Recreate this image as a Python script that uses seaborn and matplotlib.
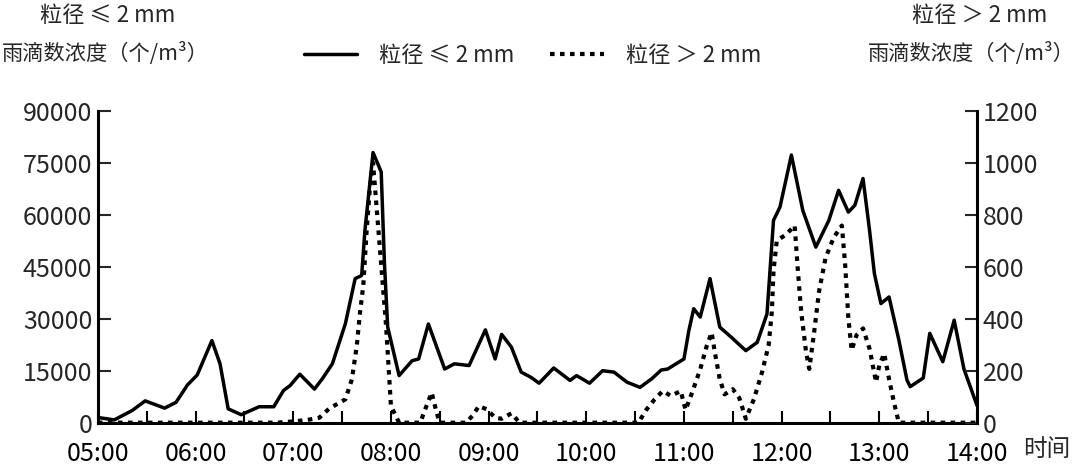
import numpy as np
import pandas as pd
import seaborn as sns
import matplotlib.pyplot as plt
from matplotlib.lines import Line2D

# minutes after 05:00 and drop concentrations
small_t = [0, 10, 21, 29, 41, 48, 55, 61, 70, 75, 80, 88, 99, 108, 114, 118, 124,
           133, 138, 144, 152, 158, 162, 164, 169, 174, 176, 178, 185, 193, 197,
           203, 213, 219, 228, 238, 244, 248, 254, 260, 266, 271, 280, 290, 294,
           302, 310, 317, 325, 333, 340, 346, 350, 360, 363, 366, 370, 376, 382,
           389, 398, 405, 411, 415, 419, 426, 433, 441, 449, 455, 461, 465, 470,
           474, 477, 481, 486, 492, 497, 499, 507, 511, 519, 526, 532, 540]
small_n = [1500, 800, 3500, 6300, 4200, 5900, 10900, 13800, 23700, 17000, 4000,
           2300, 4600, 4600, 9300, 10700, 14000, 9700, 12800, 17000, 28600, 41600,
           42500, 55500, 78000, 72400, 46000, 27600, 13600, 17900, 18400, 28500,
           15500, 17000, 16500, 26800, 18400, 25500, 21800, 14600, 13100, 11400,
           15800, 12200, 13600, 11400, 15000, 14600, 11700, 10200, 12600, 15200,
           15500, 18400, 26600, 32900, 30500, 41600, 27600, 24700, 20800, 23200,
           31400, 58400, 62300, 77300, 61300, 50700, 58400, 67100, 60800, 62800,
           70500, 55600, 43000, 34400, 36300, 23900, 12300, 10400, 12900, 25800,
           17600, 29600, 15500, 5000]

large_t = [0, 110, 120, 128, 136, 142, 152, 156, 159, 161, 163, 165, 167, 169,
           177, 178.5, 180, 185, 198, 201, 205, 208, 210, 226, 230, 234, 239, 244,
           248, 254, 259, 332, 337, 342, 347, 352, 358, 361, 365, 370, 374, 377,
           379, 382, 385, 390, 394, 398, 403, 408, 412, 414, 415, 417, 423, 428,
           430, 432, 435, 437, 440, 443, 447, 452, 457, 459, 461, 463, 466, 470,
           474, 478, 480, 483, 486, 489, 492, 540]
large_n = [0, 0, 5, 10, 19, 54, 90, 167, 296, 425, 528, 733, 900, 1000,
           373, 219, 64, 0, 0, 51, 116, 40, 0, 0, 26, 64, 51, 19,
           15, 36, 0, 0, 51, 90, 122, 103, 122, 49, 116, 206, 296, 347,
           270, 167, 109, 129, 95, 15, 91, 195, 298, 428, 584, 700, 726, 759,
           584, 428, 272, 207, 350, 506, 635, 713, 759, 610, 402, 279, 337, 363,
           285, 156, 221, 266, 168, 78, 0, 0]

hour_labels = ["05:00", "06:00", "07:00", "08:00", "09:00",
               "10:00", "11:00", "12:00", "13:00", "14:00"]
left_ticks = [0, 15000, 30000, 45000, 60000, 75000, 90000]
right_ticks = [0, 200, 400, 600, 800, 1000, 1200]

label_small = "粒径 ≤ 2 mm"
label_large = "粒径 ＞ 2 mm"
unit_label = "雨滴数浓度（个/m³）"

sns.set_theme(style="ticks")
plt.rcParams["font.family"] = ["Noto Sans CJK SC", "DejaVu Sans"]

small = pd.DataFrame({"t": small_t, "n": small_n})
large = pd.DataFrame({"t": large_t, "n": large_n})

fig = plt.figure(figsize=(10.8, 4.67), dpi=100)
ax = fig.add_axes([0.0907, 0.0949, 0.8139, 0.6674])
ax2 = ax.twinx()

dots = (0, (1.1, 1.3))

sns.lineplot(data=small, x="t", y="n", ax=ax, color="black", lw=2.5,
             estimator=None, sort=False, legend=False, solid_joinstyle="round")
sns.lineplot(data=large, x="t", y="n", ax=ax2, color="black", lw=3.0,
             estimator=None, sort=False, legend=False,
             linestyle=dots, dash_capstyle="butt")

ax.set_xlim(0, 540)
ax.set_ylim(0, 90000)
ax2.set_ylim(0, 1200)
ax.set_xticks(np.arange(0, 541, 60))
ax.set_xticklabels(hour_labels)
ax.set_xticks(np.arange(30, 540, 60), minor=True)
ax.set_yticks(left_ticks)
ax.set_yticklabels([str(v) for v in left_ticks])
ax2.set_yticks(right_ticks)
ax2.set_yticklabels([str(v) for v in right_ticks])
ax.set_xlabel("")
ax.set_ylabel("")
ax2.set_ylabel("")

for a in (ax, ax2):
    a.spines["top"].set_visible(False)
    for s in a.spines.values():
        s.set_linewidth(2.2)
        s.set_color("black")
ax.spines["right"].set_visible(False)
ax2.spines["left"].set_visible(False)
ax2.spines["bottom"].set_visible(False)

ax.tick_params(axis="x", which="both", direction="in", length=9, width=1.5,
               labelsize=18, pad=13, colors="black")
ax.tick_params(axis="y", direction="in", length=9, width=1.5, labelsize=18, pad=4)
ax2.tick_params(axis="y", direction="in", length=9, width=1.5, labelsize=18, pad=4)

fig.text(0.100, 1 - 15 / 467, label_small, ha="center", va="center", fontsize=16)
fig.text(0.0975, 1 - 53 / 467, unit_label, ha="center", va="center", fontsize=15.3)
fig.text(0.907, 1 - 16 / 467, label_large, ha="center", va="center", fontsize=16)
fig.text(0.899, 1 - 53 / 467, unit_label, ha="center", va="center", fontsize=15.3)
fig.text(0.969, 1 - 449 / 467, "时间", ha="center", va="center", fontsize=17)

handles = [Line2D([], [], color="black", lw=2.5),
           Line2D([], [], color="black", lw=3.0, linestyle=dots)]
fig.legend(handles, [label_small, label_large], loc="center",
           bbox_to_anchor=(0.493, 1 - 55 / 467), ncol=2, frameon=False,
           fontsize=16, handlelength=2.4, handletextpad=1.0, columnspacing=1.6)

fig.savefig("out.png", dpi=100)
